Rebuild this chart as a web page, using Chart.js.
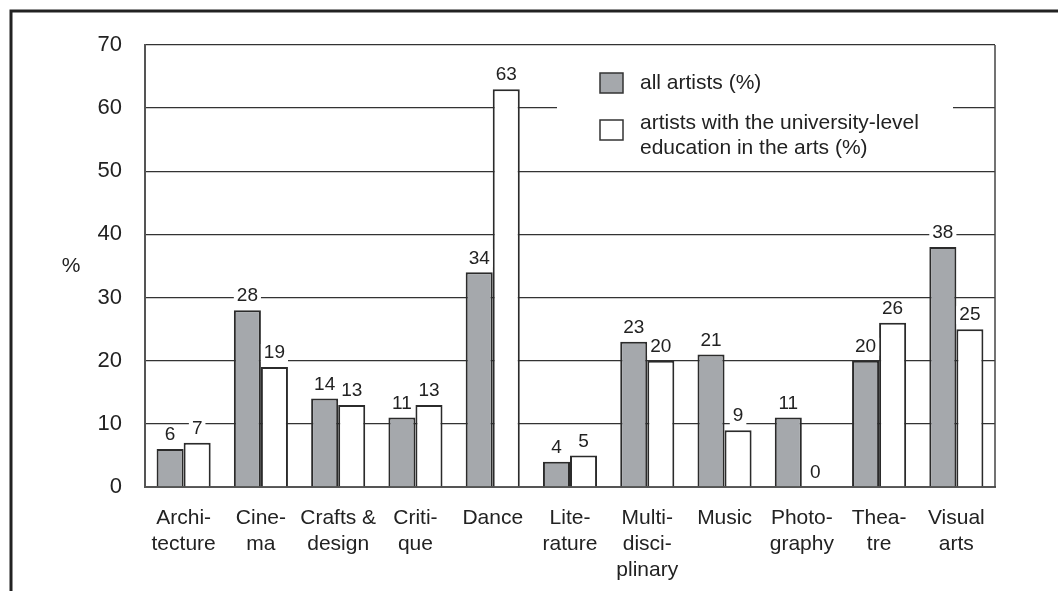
<!DOCTYPE html>
<html>
<head>
<meta charset="utf-8">
<script src="https://cdn.jsdelivr.net/npm/chart.js@4.4.3/dist/chart.umd.min.js"></script>
<style>
  html, body { margin: 0; padding: 0; background: #fff; }
  #wrap { position: relative; width: 1058px; height: 591px; }
</style>
</head>
<body>
<div id="wrap"><canvas id="c" width="1058" height="591"></canvas></div>
<script>
// ---------- data ----------
const categories = [
  ["Archi-", "tecture"], ["Cine-", "ma"], ["Crafts &", "design"], ["Criti-", "que"],
  ["Dance"], ["Lite-", "rature"], ["Multi-", "disci-", "plinary"], ["Music"],
  ["Photo-", "graphy"], ["Thea-", "tre"], ["Visual", "arts"]
];
const allArtists = [6, 28, 14, 11, 34, 4, 23, 21, 11, 20, 38];
const universityArtists = [7, 19, 13, 13, 63, 5, 20, 9, 0, 26, 25];
const seriesLabels = [
  ["all artists (%)"],
  ["artists with the university-level", "education in the arts (%)"]
];
const yTicks = [0, 10, 20, 30, 40, 50, 60, 70];
const yUnit = "%";

const FONT = "'Liberation Sans', Arial, sans-serif";
const INK = "#222";

// ---------- plugins ----------
// outer frame (top + left) and the right edge of the plot box
const framePlugin = {
  id: "frame",
  beforeDraw(chart) {
    const c = chart.ctx;
    c.save();
    c.strokeStyle = "#222";
    c.lineWidth = 3;
    c.beginPath();
    c.moveTo(11, 591);
    c.lineTo(11, 11);
    c.lineTo(1058, 11);
    c.stroke();
    c.fillStyle = INK;
    c.font = "21px " + FONT;
    c.textAlign = "center";
    c.textBaseline = "middle";
    c.fillText(yUnit, 71, 266);
    c.restore();
  },
  afterDatasetsDraw(chart) {
    const a = chart.chartArea;
    const c = chart.ctx;
    c.save();
    c.strokeStyle = "#444";
    c.lineWidth = 1.5;
    c.beginPath();
    c.moveTo(a.right, a.top);
    c.lineTo(a.right, a.bottom);
    c.stroke();
    c.restore();
  }
};

// value labels above bars on a white patch
const valueLabels = {
  id: "valueLabels",
  afterDatasetsDraw(chart) {
    const c = chart.ctx;
    c.save();
    c.font = "19px " + FONT;
    c.textAlign = "center";
    c.textBaseline = "middle";
    chart.data.datasets.forEach((ds, i) => {
      chart.getDatasetMeta(i).data.forEach((bar, j) => {
        const txt = String(ds.data[j]);
        const w = c.measureText(txt).width + 6;
        const y = bar.y - 14;
        c.fillStyle = "#fff";
        c.fillRect(bar.x - w / 2, y - 9, w, 18);
        c.fillStyle = INK;
        c.fillText(txt, bar.x, y);
      });
    });
    c.restore();
  }
};

// boxed legend in the upper right
const boxLegend = {
  id: "boxLegend",
  afterDatasetsDraw(chart) {
    const c = chart.ctx;
    c.save();
    c.fillStyle = "#fff";
    c.fillRect(557, 62, 396, 100);
    c.font = "21px " + FONT;
    c.textBaseline = "middle";
    const rows = [{ y: 83 }, { y: 123 }];
    chart.data.datasets.forEach((ds, i) => {
      const r = rows[i];
      const sy = i === 0 ? 73 : 120;
      c.fillStyle = ds.backgroundColor;
      c.fillRect(600, sy, 23, 20);
      c.strokeStyle = "#333";
      c.lineWidth = 1.5;
      c.strokeRect(600, sy, 23, 20);
      c.fillStyle = INK;
      seriesLabels[i].forEach((line, k) => c.fillText(line, 640, r.y + k * 25));
    });
    c.restore();
  }
};

// ---------- chart ----------
new Chart(document.getElementById("c"), {
  type: "bar",
  data: {
    labels: categories,
    datasets: [
      {
        label: seriesLabels[0].join(" "),
        data: allArtists,
        backgroundColor: "#a5a8ac",
        borderColor: "#2b2b2b",
        borderWidth: 2,
        borderSkipped: "bottom",
        barPercentage: 1,
        categoryPercentage: 0.7
      },
      {
        label: seriesLabels[1].join(" "),
        data: universityArtists,
        backgroundColor: "#ffffff",
        borderColor: "#2b2b2b",
        borderWidth: 2,
        borderSkipped: "bottom",
        barPercentage: 1,
        categoryPercentage: 0.7
      }
    ]
  },
  options: {
    responsive: false,
    animation: false,
    devicePixelRatio: 1,
    layout: { padding: { left: 0, top: 45, right: 63, bottom: 0 } },
    plugins: {
      legend: { display: false },
      tooltip: { enabled: false }
    },
    scales: {
      x: {
        grid: { display: false },
        border: { display: true, color: "#555", width: 2 },
        ticks: {
          color: INK,
          font: { family: FONT, size: 21, lineHeight: 1.24 },
          padding: 10,
          maxRotation: 0,
          autoSkip: false
        },
        afterFit(s) { s.height = 104; }
      },
      y: {
        min: yTicks[0],
        max: yTicks[yTicks.length - 1],
        afterBuildTicks(s) { s.ticks = yTicks.map((v) => ({ value: v })); },
        grid: { color: "#333", lineWidth: 1.3, drawTicks: false },
        border: { display: true, color: "#555", width: 2 },
        ticks: {
          color: INK,
          font: { family: FONT, size: 22 },
          padding: 23
        },
        afterFit(s) { s.width = 145; }
      }
    }
  },
  plugins: [framePlugin, valueLabels, boxLegend]
});
</script>
</body>
</html>
